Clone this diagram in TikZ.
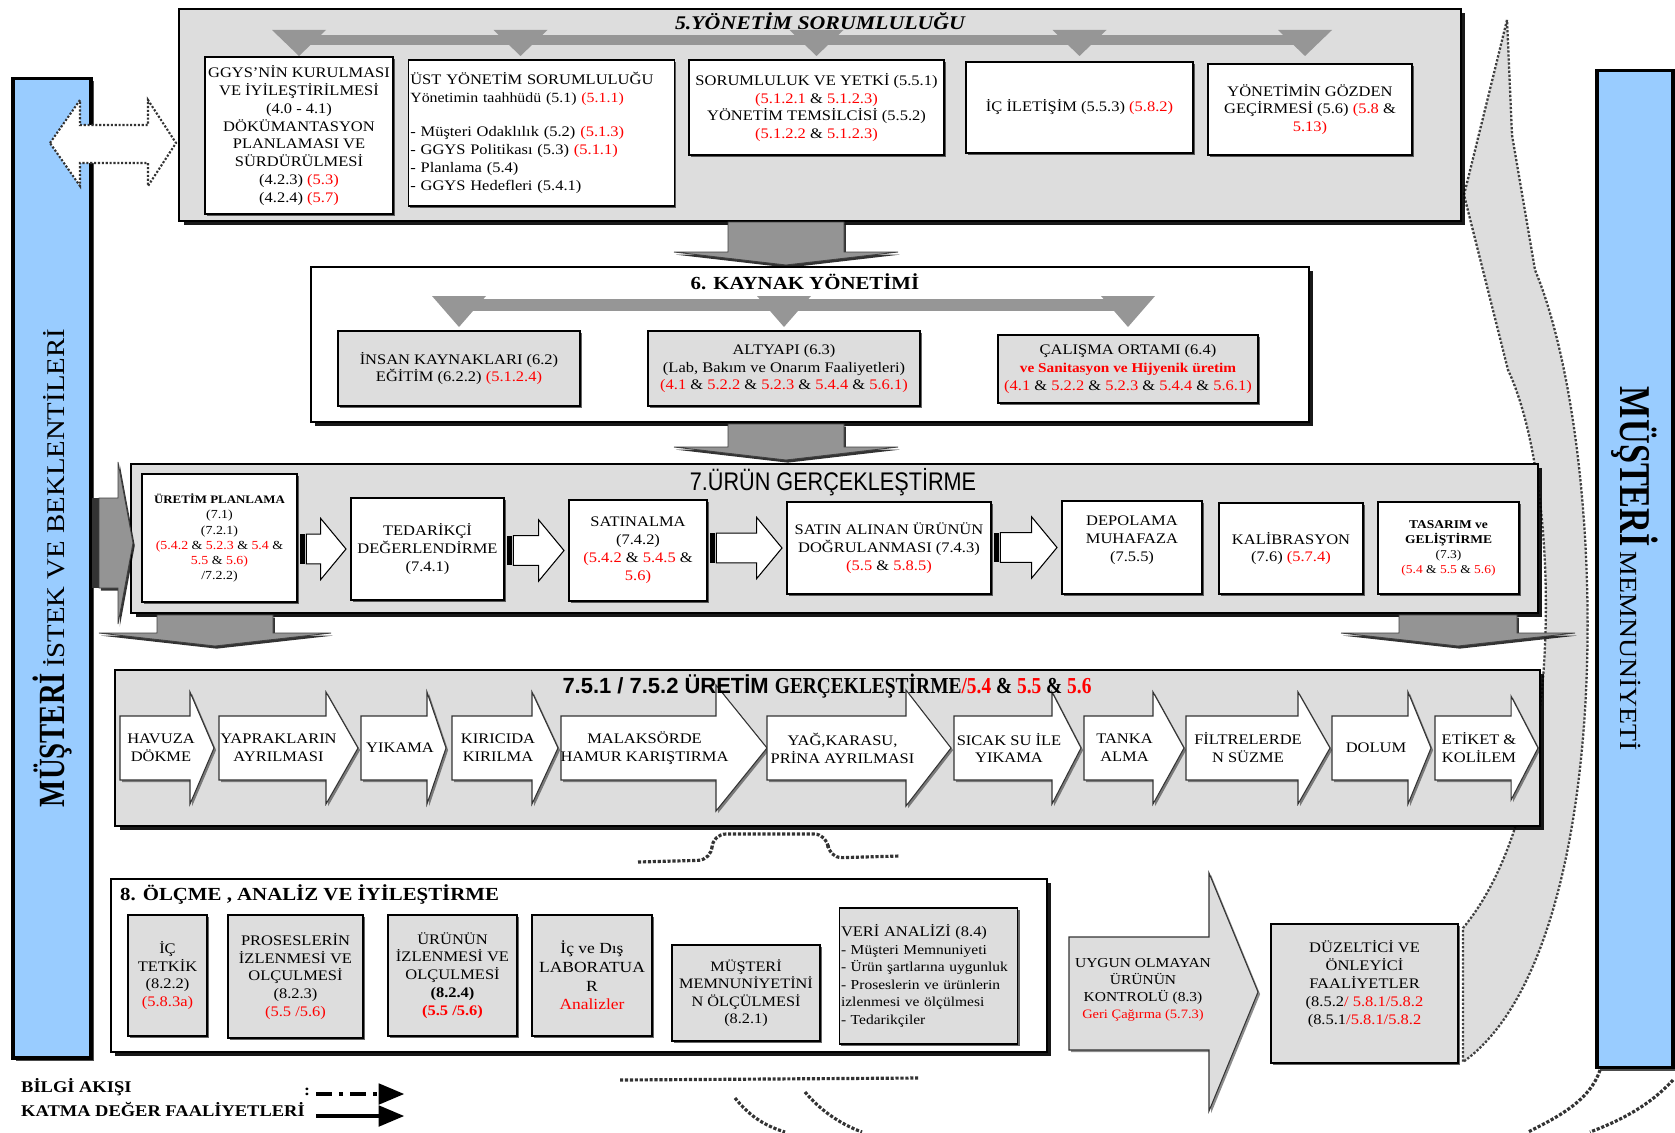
\documentclass[tikz,border=0pt]{standalone}
\usepackage{fontspec}
\setmainfont{Liberation Serif}[FakeStretch=1.13]
\newfontfamily\narrowsans[FakeStretch=0.85]{Liberation Sans}
\newfontfamily\plainsans{Liberation Sans}
\newfontfamily\narrowserif[FakeStretch=0.85]{Liberation Serif}
\newfontfamily\tallserif[FakeStretch=0.78]{Liberation Serif}
\usepackage{tikz}
\usetikzlibrary{shapes.geometric, arrows, positioning, calc, shadows}

\definecolor{panelgray}{RGB}{221,221,221}
\definecolor{barblue}{RGB}{153,204,255}
\definecolor{tripgray}{RGB}{150,150,150}

\newcommand{\rd}[1]{\textcolor{red}{#1}}
\newcommand{\boxfont}{\fontsize{8.3}{10.2}\selectfont}
\newcommand{\smallbox}{\fontsize{7.3}{9}\selectfont}

\tikzstyle{secframe} = [rectangle, draw=black, line width=1.2pt, inner sep=0pt, drop shadow={shadow xshift=2.5pt, shadow yshift=-2.5pt, opacity=0.9, fill=black}]
\tikzstyle{wbox} = [rectangle, draw=black, line width=0.7pt, fill=white, align=center, inner sep=1pt, font=\boxfont, drop shadow={shadow xshift=1pt, shadow yshift=-1pt, opacity=0.6, fill=black}]
\tikzstyle{gbox} = [wbox, fill=panelgray]
\tikzstyle{custbar} = [rectangle, draw=black, line width=1.8pt, fill=barblue, inner sep=0pt, drop shadow={shadow xshift=1.5pt, shadow yshift=-1.5pt, opacity=0.7, fill=black}]
\tikzstyle{tri} = [fill=tripgray]
\tikzstyle{bigdown} = [fill=black!42, draw=black!75, line width=0.5pt, drop shadow={shadow xshift=1pt, shadow yshift=-1.5pt, opacity=0.8, fill=black}]
\tikzstyle{procshape} = [draw=black!80, fill=white, line width=0.6pt, drop shadow={shadow xshift=1.2pt, shadow yshift=-1.2pt, opacity=0.45, fill=black}]
\tikzstyle{proctext} = [align=center, font=\boxfont, inner sep=0pt]
\tikzstyle{stripeshape} = [draw=black, fill=white, line width=0.6pt]
\tikzstyle{flowarrow} = [fill=panelgray, draw=black!75, line width=1.3pt, densely dotted]
\tikzstyle{infoshape} = [fill=white, draw=black!80, line width=1.2pt, densely dotted]
\tikzstyle{infoline} = [draw=black!80, line width=1.8pt, densely dotted]
\tikzstyle{legsolid} = [line width=2.4pt, -triangle 45]
\tikzstyle{legdash} = [legsolid, dash pattern=on 9pt off 4pt on 2.5pt off 4pt]

% gray block arrow pointing down: x, y top, y tip, half shaft, half head
\newcommand{\blockdown}[5]{%
  \draw[bigdown] ({#1-#4},#2) -- ({#1+#4},#2) -- ({#1+#4},{#3-13}) -- ({#1+#5},{#3-13})
    -- (#1,#3) -- ({#1-#5},{#3-13}) -- ({#1-#4},{#3-13}) -- cycle;}

% striped white arrow between two boxes
\newcommand{\stripearrow}[2]{%
  \fill let \p1=(#1.east), \p2=(#2.west) in (\x1+1.2pt,\y2-8.5pt) rectangle (\x1+4pt,\y2+8.5pt);
  \draw[stripeshape] let \p1=(#1.east), \p2=(#2.west) in
    (\x1+5pt,\y2-8.5pt) -- (\x2-17pt,\y2-8.5pt) -- (\x2-17pt,\y2-17.5pt) -- (\x2-2.5pt,\y2)
    -- (\x2-17pt,\y2+17.5pt) -- (\x2-17pt,\y2+8.5pt) -- (\x1+5pt,\y2+8.5pt) -- cycle;}

% process step arrow: x tail, x head, x tip, half head, name, text
\newcommand{\procarrow}[6]{%
  \draw[procshape] (#1,716) -- (#2,716) -- (#2,{748-#4}) -- (#3,748) -- (#2,{748+#4})
    -- (#2,780) -- (#1,780) -- cycle;
  \node (#5) [proctext] at ({(#1+#2)/2+6},748) {#6};}

\begin{document}
\begin{tikzpicture}[x=0.02cm, y=-0.02cm]
\fill[white, use as bounding box] (0,0) rectangle (1675,1132);

% feedback arrow on the right
\draw[flowarrow] (1507,20) -- (1464,195) -- (1508,370)
  .. controls (1560,480) and (1570,800) .. (1463,928)
  -- (1463,1062)
  .. controls (1620,950) and (1610,450) .. (1535,270)
  -- (1512,135) -- cycle;

% customer bars
\node (clb) [custbar, minimum width=1.56cm, minimum height=19.6cm] at (52,568) {};
\node (clbtext) [rotate=90] at (clb.center) {{\tallserif\bfseries\fontsize{21}{21}\selectfont MÜŞTERİ} {\fontsize{14.5}{14.5}\selectfont İSTEK VE BEKLENTİLERİ}};
\node (crb) [custbar, minimum width=1.52cm, minimum height=19.96cm] at (1635,569) {};
\node (crbtext) [rotate=-90] at (crb.center) {{\tallserif\bfseries\fontsize{25}{25}\selectfont MÜŞTERİ} {\fontsize{14}{14}\selectfont MEMNUNİYETİ}};

\draw[infoshape] (50,143) -- (80,100) -- (80,125) -- (148,125) -- (148,100) -- (176,143)
  -- (148,186) -- (148,163) -- (80,163) -- (80,186) -- cycle;

% 5
\node (sec5) [secframe, fill=panelgray, minimum width=25.64cm, minimum height=4.24cm] at (820,115) {};
\node (t5) [font=\fontsize{11}{12}\selectfont\bfseries\itshape] at (820,21) {5.YÖNETİM SORUMLULUĞU};
\node (ggys) [wbox, minimum width=3.76cm, minimum height=3.14cm] at (299,135.5) {GGYS'NİN KURULMASI\\ VE İYİLEŞTİRİLMESİ\\ (4.0 - 4.1)\\ DÖKÜMANTASYON\\ PLANLAMASI VE\\ SÜRDÜRÜLMESİ\\ (4.2.3) \rd{(5.3)}\\ (4.2.4) \rd{(5.7)}};
\node (ust) [wbox, align=left, text width=5.25cm, minimum height=2.92cm] at (541.5,133) {ÜST YÖNETİM SORUMLULUĞU\\ {\fontsize{8}{9}\selectfont Yönetimin taahhüdü (5.1) \rd{(5.1.1)}}\\[9pt] - Müşteri Odaklılık (5.2) \rd{(5.1.3)}\\ - GGYS Politikası (5.3) \rd{(5.1.1)}\\ - Planlama (5.4)\\ - GGYS Hedefleri (5.4.1)};
\node (sorum) [wbox, minimum width=5.10cm, minimum height=1.90cm] at (816.5,107.5) {SORUMLULUK VE YETKİ (5.5.1)\\ \rd{(5.1.2.1} \& \rd{5.1.2.3)}\\ YÖNETİM TEMSİLCİSİ (5.5.2)\\ \rd{(5.1.2.2} \& \rd{5.1.2.3)}};
\node (ici) [wbox, minimum width=4.54cm, minimum height=1.82cm] at (1079.5,107.5) {İÇ İLETİŞİM (5.5.3) \rd{(5.8.2)}};
\node (ygg) [wbox, minimum width=4.08cm, minimum height=1.82cm] at (1310,109.5) {YÖNETİMİN GÖZDEN\\ GEÇİRMESİ (5.6) \rd{(5.8} \&\\ \rd{5.13)}};

\coordinate (bar5) at (0,40);
\draw[tripgray, line width=0.2cm] (ggys.north |- bar5) -- (ygg.north |- bar5);
\foreach \n/\dx in {ggys/0, ust/-21, sorum/0, ici/0, ygg/-5}
  \fill[tri] ($(\n.north |- bar5)+(\dx-27,-10)$) -- ($(\n.north |- bar5)+(\dx+27,-10)$) -- ($(\n.north |- bar5)+(\dx,16)$) -- cycle;

\blockdown{786}{222}{265}{58}{112}

% 6
\node (sec6) [secframe, fill=white, minimum width=19.96cm, minimum height=3.10cm] at (810,344.5) {};
\node (t6) [font=\fontsize{10.5}{12}\selectfont\bfseries] at (805,282) {6. KAYNAK YÖNETİMİ};
\node (insan) [gbox, minimum width=4.84cm, minimum height=1.50cm] at (459,368.5) {İNSAN KAYNAKLARI (6.2)\\ EĞİTİM (6.2.2) \rd{(5.1.2.4)}};
\node (alt) [gbox, minimum width=5.44cm, minimum height=1.50cm] at (784,368.5) {ALTYAPI (6.3)\\ (Lab, Bakım ve Onarım Faaliyetleri)\\ \rd{(4.1} \& \rd{5.2.2} \& \rd{5.2.3} \& \rd{5.4.4} \& \rd{5.6.1)}};
\node (cal) [gbox, minimum width=5.20cm, minimum height=1.36cm] at (1128,369) {ÇALIŞMA ORTAMI (6.4)\\ {\fontsize{7.7}{9.5}\selectfont\bfseries\rd{ve Sanitasyon ve Hijyenik üretim}}\\ \rd{(4.1} \& \rd{5.2.2} \& \rd{5.2.3} \& \rd{5.4.4} \& \rd{5.6.1)}};

\coordinate (bar6) at (0,305);
\draw[tripgray, line width=0.24cm] (insan.north |- bar6) -- (cal.north |- bar6);
\foreach \n in {insan, alt, cal}
  \fill[tri] ($(\n.north |- bar6)+(-27,-9)$) -- ($(\n.north |- bar6)+(27,-9)$) -- ($(\n.north |- bar6)+(0,22)$) -- cycle;

\blockdown{786}{424}{460}{58}{112}

% 7
\node (sec7) [secframe, fill=panelgray, minimum width=28.14cm, minimum height=2.98cm] at (834.5,538.5) {};
\node (t7) [font=\narrowsans\fontsize{14.5}{16}\selectfont] at (833,482) {7.ÜRÜN GERÇEKLEŞTİRME};
\node (uret) [wbox, minimum width=3.10cm, minimum height=2.56cm, font=\fontsize{7}{8.6}\selectfont] at (219.5,538) {{\bfseries\fontsize{6.5}{8}\selectfont ÜRETİM PLANLAMA}\\ (7.1)\\ (7.2.1)\\ \rd{(5.4.2} \& \rd{5.2.3} \& \rd{5.4} \&\\ \rd{5.5} \& \rd{5.6)}\\ /7.2.2)};
\node (ted) [wbox, minimum width=3.06cm, minimum height=2.04cm] at (427.5,549) {TEDARİKÇİ\\ DEĞERLENDİRME\\ (7.4.1)};
\node (sat) [wbox, minimum width=2.76cm, minimum height=2.02cm] at (638,550.5) {SATINALMA\\ (7.4.2)\\ \rd{(5.4.2} \& \rd{5.4.5} \&\\ \rd{5.6)}};
\node (dog) [wbox, minimum width=4.08cm, minimum height=1.84cm] at (889,548) {SATIN ALINAN ÜRÜNÜN\\ DOĞRULANMASI (7.4.3)\\ \rd{(5.5} \& \rd{5.8.5)}};
\node (dep) [wbox, minimum width=2.80cm, minimum height=1.86cm] at (1132,547.5) {DEPOLAMA\\ MUHAFAZA\\ (7.5.5)\\ \mbox{}};
\node (kal) [wbox, minimum width=2.88cm, minimum height=1.82cm] at (1291,548.5) {KALİBRASYON\\ (7.6) \rd{(5.7.4)}};
\node (tas) [wbox, minimum width=2.82cm, minimum height=1.84cm, font=\fontsize{6.8}{8.6}\selectfont] at (1448.5,548) {{\bfseries TASARIM ve}\\ {\bfseries GELİŞTİRME}\\ (7.3)\\ \rd{(5.4} \& \rd{5.5} \& \rd{5.6)}};

\stripearrow{uret}{ted}
\stripearrow{ted}{sat}
\stripearrow{sat}{dog}
\stripearrow{dog}{dep}

% from customer into 7
\fill[black!80] (92,498) rectangle (99,588);
\draw[bigdown] (99,498) -- (118,498) -- (118,462) -- (133,543) -- (118,624) -- (118,588) -- (99,588) -- cycle;

\blockdown{215}{615}{646}{58}{116}
\blockdown{1458}{615}{646}{59}{117}

% 7.5
\node (sec75) [secframe, fill=panelgray, minimum width=28.5cm, minimum height=3.12cm] at (827.5,748) {};

\procarrow{120}{190}{214}{56}{havuza}{HAVUZA\\DÖKME}
\procarrow{219}{326}{358}{56}{yaprak}{YAPRAKLARIN\\AYRILMASI}
\procarrow{361}{427}{446}{56}{yikama}{YIKAMA}
\procarrow{452}{532}{558}{56}{kirici}{KIRICIDA\\KIRILMA}
\procarrow{561}{716}{767}{63}{malak}{MALAKSÖRDE\\HAMUR KARIŞTIRMA}
\procarrow{767}{906}{951}{58}{karasu}{YAĞ,KARASU,\\PRİNA AYRILMASI}
\procarrow{954}{1052}{1081}{56}{sicak}{SICAK SU İLE\\YIKAMA}
\procarrow{1084}{1153}{1184}{56}{tanka}{TANKA\\ALMA}
\procarrow{1186}{1298}{1330}{56}{filtre}{FİLTRELERDE\\N SÜZME}
\procarrow{1332}{1408}{1431}{56}{dolum}{DOLUM}
\procarrow{1435}{1511}{1538}{52}{etiket}{ETİKET \&\\KOLİLEM}

\node (t75) at (827,686) {{\plainsans\bfseries\fontsize{12.5}{14}\selectfont 7.5.1 /\ 7.5.2 ÜRETİM }{\narrowserif\bfseries\fontsize{13}{14}\selectfont GERÇEKLEŞTİRME\rd{/5.4} \& \rd{5.5} \& \rd{5.6}}};

% 8
\draw[infoline, rounded corners=8pt] (638,862) -- (712,860) -- (712,834) -- (828,834) -- (828,858) -- (900,856);
\node (sec8) [secframe, fill=white, minimum width=18.72cm, minimum height=3.46cm] at (579,965.5) {};
\node (t8) [anchor=west, font=\fontsize{10.5}{12}\selectfont\bfseries] at (114,894) {8. ÖLÇME , ANALİZ VE İYİLEŞTİRME};
\node (tet) [gbox, minimum width=1.58cm, minimum height=2.42cm, font=\fontsize{8.3}{10.2}\selectfont] at (167.5,975.5) {İÇ\\ TETKİK\\ (8.2.2)\\ \rd{(5.8.3a)}};
\node (pro) [gbox, minimum width=2.70cm, minimum height=2.46cm] at (295.5,976.5) {PROSESLERİN\\ İZLENMESİ VE\\ OLÇULMESİ\\ (8.2.3)\\ \rd{(5.5 /5.6)}};
\node (urn) [gbox, minimum width=2.58cm, minimum height=2.42cm] at (452.5,975.5) {ÜRÜNÜN\\ İZLENMESİ VE\\ OLÇULMESİ\\ \textbf{(8.2.4)}\\ \rd{\textbf{(5.5 /5.6)}}};
\node (lab) [gbox, minimum width=2.40cm, minimum height=2.42cm, font=\fontsize{8.8}{10.6}\selectfont] at (592,975.5) {İç ve Dış\\ LABORATUA\\ R\\ \rd{Analizler}};
\node (mus) [gbox, minimum width=2.96cm, minimum height=1.92cm, font=\fontsize{8.2}{10}\selectfont] at (746,993) {MÜŞTERİ\\ MEMNUNİYETİNİ\\ N ÖLÇÜLMESİ\\ (8.2.1)};
\node (veri) [gbox, align=left, text width=3.5cm, minimum height=2.72cm, font=\fontsize{7.8}{10}\selectfont] at (928.5,976) {{\fontsize{8.3}{10}\selectfont VERİ ANALİZİ (8.4)}\\ - Müşteri Memnuniyeti\\ - Ürün şartlarına uygunluk\\ - Proseslerin ve ürünlerin\\ izlenmesi ve ölçülmesi\\ - Tedarikçiler};

\draw[procshape, fill=panelgray] (1069,937) -- (1209,937) -- (1209,873) -- (1258,992) -- (1209,1111)
  -- (1209,1050) -- (1069,1050) -- cycle;
\node (uygun) [proctext, font=\fontsize{7.8}{9.8}\selectfont] at (1143,990) {UYGUN OLMAYAN\\ ÜRÜNÜN\\ KONTROLÜ (8.3)\\ {\smallbox\rd{Geri Çağırma (5.7.3)}}};
\node (duz) [gbox, line width=1.2pt, minimum width=3.74cm, minimum height=2.78cm] at (1364.5,993.5) {DÜZELTİCİ VE\\ ÖNLEYİCİ\\ FAALİYETLER\\ (8.5.2\rd{/ 5.8.1/5.8.2}\\ (8.5.1\rd{/5.8.1/5.8.2}\\[2pt]};

% information flow traces
\draw[infoline] (620,1080) -- (918,1078);
\draw[infoline] (735,1098) .. controls (748,1114) and (762,1125) .. (785,1132);
\draw[infoline] (805,1092) .. controls (820,1110) and (840,1124) .. (862,1132);
\draw[infoline] (1600,1070) .. controls (1590,1100) and (1560,1116) .. (1528,1132);
\draw[infoline] (1673,1080) .. controls (1650,1105) and (1622,1120) .. (1590,1132);

% legend
\node (leg1) [anchor=west, font=\bfseries\fontsize{9.3}{10}\selectfont] at (15,1087) {BİLGİ AKIŞI};
\node (leg2) [anchor=west, font=\bfseries\fontsize{9.3}{10}\selectfont] at (15,1109) {KATMA DEĞER FAALİYETLERİ};
\node (legcolon) [font=\bfseries\fontsize{9}{10}\selectfont] at (307,1092) {:};
\coordinate (l1a) at (316,1094);
\coordinate (l1b) at (404,1094);
\coordinate (l2a) at (316,1116);
\coordinate (l2b) at (404,1116);
\draw[legdash] (l1a) -- (l1b);
\draw[legsolid] (l2a) -- (l2b);
\end{tikzpicture}
\end{document}
